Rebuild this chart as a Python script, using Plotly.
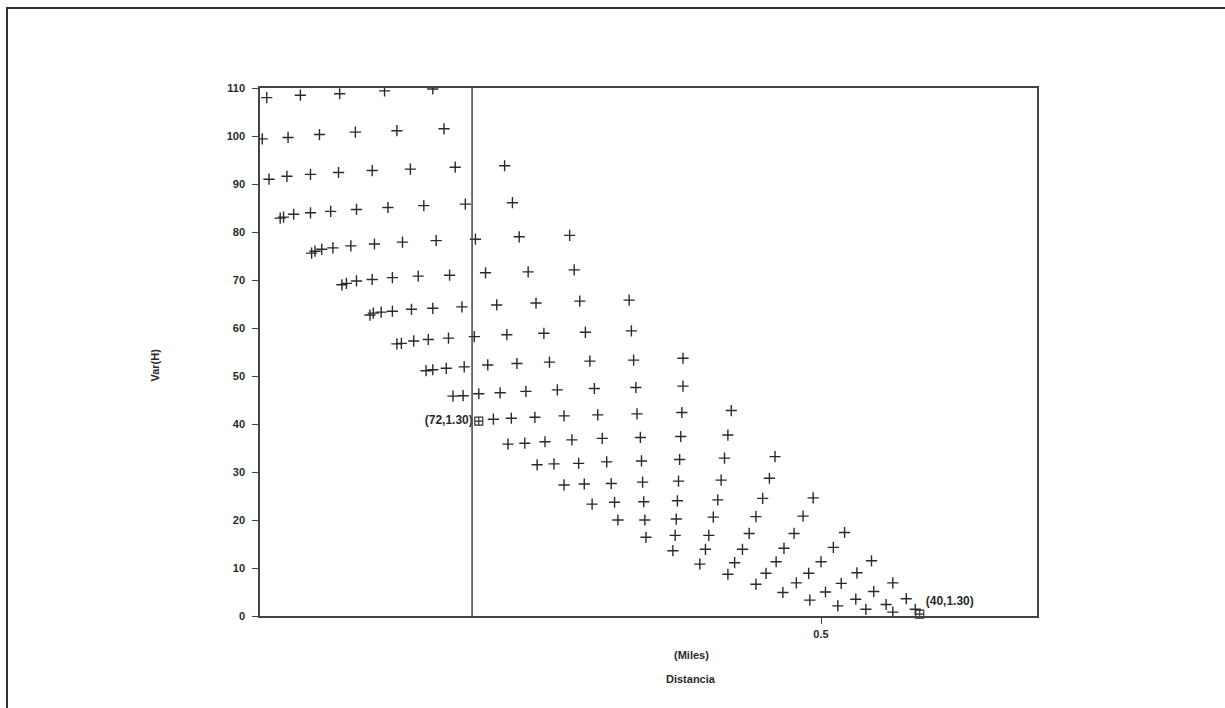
import plotly.graph_objects as go

# ---- data (Distancia in miles, Var(H)) ----
dist = [
    0.006, 0.036, 0.071, 0.111, 0.154,
    0.002, 0.025, 0.053, 0.085, 0.122, 0.164,
    0.008, 0.024, 0.045, 0.070, 0.100, 0.134, 0.174, 0.218,
    0.018, 0.021, 0.030, 0.045, 0.063, 0.086, 0.114, 0.146, 0.183, 0.225,
    0.046, 0.049, 0.055, 0.065, 0.081, 0.102, 0.127, 0.157, 0.192, 0.231, 0.276,
    0.073, 0.077, 0.086, 0.100, 0.118, 0.141, 0.169, 0.201, 0.239, 0.280,
    0.098, 0.101, 0.108, 0.118, 0.135, 0.154, 0.180, 0.211, 0.246, 0.285, 0.329,
    0.122, 0.126, 0.137, 0.150, 0.168, 0.191, 0.220, 0.253, 0.290, 0.331,
    0.148, 0.154, 0.166, 0.182, 0.203, 0.229, 0.258, 0.294, 0.333, 0.377,
    0.172, 0.181, 0.195, 0.214, 0.237, 0.265, 0.298, 0.335, 0.377,
    0.208, 0.224, 0.245, 0.271, 0.301, 0.336, 0.376, 0.420,
    0.221, 0.236, 0.254, 0.278, 0.305, 0.339, 0.375, 0.417,
    0.247, 0.262, 0.284, 0.309, 0.340, 0.374, 0.414, 0.459,
    0.271, 0.289, 0.313, 0.341, 0.373, 0.411, 0.454,
    0.296, 0.316, 0.342, 0.372, 0.408, 0.448, 0.493,
    0.319, 0.343, 0.371, 0.404, 0.442, 0.484,
    0.344, 0.370, 0.400, 0.436, 0.476, 0.521,
    0.368, 0.397, 0.430, 0.467, 0.511,
    0.392, 0.423, 0.460, 0.500, 0.545,
    0.417, 0.451, 0.489, 0.532,
    0.442, 0.478, 0.518, 0.564,
    0.466, 0.504, 0.547,
    0.490, 0.531, 0.576,
    0.515, 0.558,
    0.540, 0.584,
    0.564,
]
var_h = [
    108.0, 108.5, 108.8, 109.4, 109.8,
    99.4, 99.7, 100.3, 100.8, 101.1, 101.5,
    91.0, 91.6, 92.0, 92.4, 92.8, 93.1, 93.5, 93.8,
    82.9, 83.1, 83.7, 84.0, 84.3, 84.7, 85.1, 85.5, 85.8, 86.1,
    75.6, 76.0, 76.4, 76.7, 77.1, 77.5, 77.9, 78.2, 78.5, 79.0, 79.3,
    69.0, 69.3, 69.8, 70.1, 70.5, 70.8, 71.0, 71.5, 71.7, 72.1,
    62.7, 63.1, 63.3, 63.5, 63.9, 64.1, 64.4, 64.8, 65.2, 65.6, 65.8,
    56.7, 56.8, 57.3, 57.6, 57.9, 58.2, 58.6, 58.9, 59.1, 59.4,
    51.1, 51.3, 51.6, 51.9, 52.3, 52.6, 52.9, 53.1, 53.3, 53.7,
    45.8, 45.9, 46.3, 46.5, 46.8, 47.1, 47.4, 47.6, 47.9,
    41.0, 41.2, 41.4, 41.7, 41.9, 42.1, 42.4, 42.8,
    35.8, 36.0, 36.3, 36.7, 37.0, 37.2, 37.4, 37.7,
    31.5, 31.7, 31.8, 32.1, 32.3, 32.6, 32.9, 33.2,
    27.3, 27.5, 27.6, 27.9, 28.1, 28.3, 28.7,
    23.3, 23.7, 23.8, 24.0, 24.2, 24.5, 24.6,
    20.0, 20.0, 20.2, 20.6, 20.7, 20.8,
    16.4, 16.8, 16.8, 17.2, 17.2, 17.4,
    13.6, 13.9, 13.9, 14.1, 14.3,
    10.8, 11.1, 11.3, 11.3, 11.5,
    8.7, 8.9, 8.9, 9.0,
    6.6, 6.9, 6.8, 6.9,
    4.9, 5.0, 5.1,
    3.3, 3.5, 3.6,
    2.1, 2.4,
    1.4, 1.4,
    0.8,
]

# highlighted points
mark_labels = ["(72,1.30)", "(40,1.30)"]
mark_dist = [0.195, 0.588]
mark_var = [40.6, 0.4]

ref_dist = 0.189          # vertical reference line
x_range = [0.0, 0.6925]
y_range = [0, 110]
y_ticks = [0, 10, 20, 30, 40, 50, 60, 70, 80, 90, 100, 110]
x_ticks = [0.5]
x_ticktext = ["0.5"]

ink = "#2a2a2a"
fam = "Liberation Sans, Arial, sans-serif"
font = dict(family=fam, size=11, color=ink, weight="bold")

fig = go.Figure()
fig.add_trace(go.Scatter(
    x=dist, y=var_h, mode="markers",
    marker=dict(symbol="cross-thin", size=8, line=dict(width=1.4, color=ink), color=ink),
    showlegend=False, hoverinfo="x+y",
))
fig.add_trace(go.Scatter(
    x=mark_dist, y=mark_var, mode="markers+text",
    text=mark_labels, textposition=["middle left", "top right"],
    textfont=dict(family=fam, size=12, color=ink, weight="bold"),
    marker=dict(symbol="square-cross-open", size=8, line=dict(width=1.1, color=ink), color=ink),
    showlegend=False, cliponaxis=False,
))

fig.add_shape(type="line", xref="x", yref="paper", x0=ref_dist, x1=ref_dist, y0=0, y1=1,
              line=dict(color="#444", width=1.5))
# outer frame of the figure
fig.add_shape(type="rect", xref="paper", yref="paper", x0=-0.3256, x1=1.35, y0=-0.25, y1=1.1515,
              line=dict(color="#333", width=2), fillcolor="rgba(0,0,0,0)")

fig.update_xaxes(range=x_range, tickvals=x_ticks, ticktext=x_ticktext, ticks="outside",
                 ticklen=6, tickcolor="#444", tickfont=font, showgrid=False, zeroline=False,
                 showline=True, linecolor="#444", linewidth=1.5, mirror=True,
                 ticklabelstandoff=1)
fig.update_yaxes(range=y_range, tickvals=y_ticks, ticks="outside", ticklen=6, tickcolor="#444",
                 tickfont=font, showgrid=False, zeroline=False,
                 showline=True, linecolor="#444", linewidth=1.5, mirror=True,
                 ticklabelstandoff=5)

title_font = dict(family=fam, size=11, color=ink, weight="bold")
fig.add_annotation(text="Var(H)", xref="paper", yref="paper", x=-0.145, y=0.475,
                   textangle=-90, showarrow=False, font=title_font)
fig.add_annotation(text="(Miles)", xref="paper", yref="paper", x=0.555, y=-0.089,
                   showarrow=False, font=title_font)
fig.add_annotation(text="Distancia", xref="paper", yref="paper", x=0.555, y=-0.134,
                   showarrow=False, font=title_font)

fig.update_layout(
    width=1225, height=708, autosize=False,
    margin=dict(l=260, r=188, t=88, b=92),
    paper_bgcolor="white", plot_bgcolor="white",
)

fig.write_html("out.html", config={"displayModeBar": False},
               post_script="document.body.style.margin='0';document.body.style.overflow='hidden';")
